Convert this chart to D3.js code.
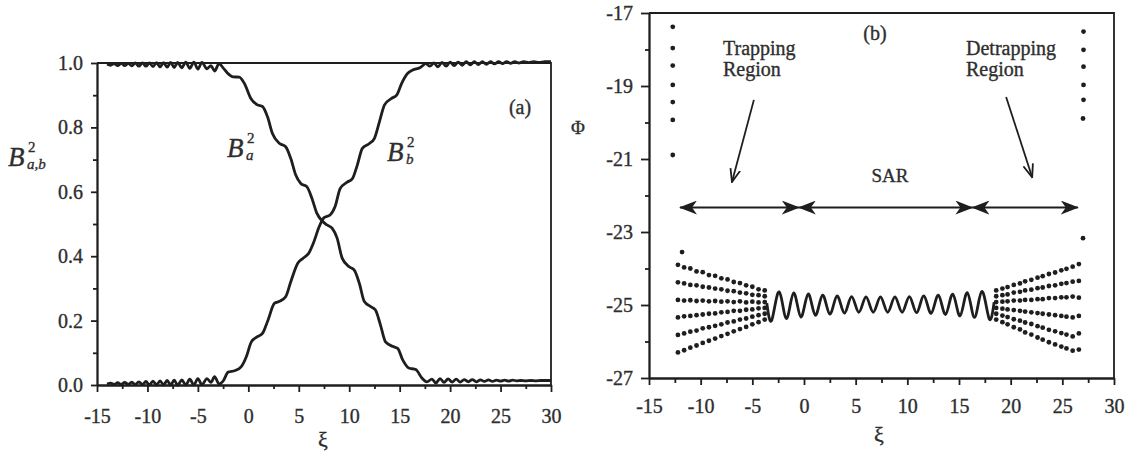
<!DOCTYPE html>
<html>
<head>
<meta charset="utf-8">
<script src="https://cdn.jsdelivr.net/npm/d3@7"></script>
<style>
  body { margin: 0; background: #fff; }
  svg text { font-family: "Liberation Serif", "DejaVu Serif", serif; fill: #2e2e2e; stroke: #2e2e2e; stroke-width: 0.35px; }
</style>
</head>
<body>
<svg id="chart" width="1131" height="459"></svg>
<script>
// ---- data ----
const xiTicks = [-15, -10, -5, 0, 5, 10, 15, 20, 25, 30];
const xiMinor = [-12.5, -7.5, -2.5, 2.5, 7.5, 12.5, 17.5, 22.5, 27.5];
const bTicks = [0, 0.2, 0.4, 0.6, 0.8, 1.0];
const bMinor = [0.1, 0.3, 0.5, 0.7, 0.9];
const phiTicks = [-27, -25, -23, -21, -19, -17];
const phiMinor = [-26, -24, -22, -20, -18];

// panel (a): B_a^2 and B_b^2 vs xi
const bSqA = [
  [-14.0,0.997],[-13.65,0.993],[-13.3,0.998],[-12.95,0.992],[-12.6,0.999],[-12.25,0.992],[-11.9,0.999],
  [-11.55,0.991],[-11.2,1.0],[-10.85,0.99],[-10.5,1.0],[-10.15,0.99],[-9.8,1.0],[-9.45,0.989],[-9.1,1.001],
  [-8.75,0.988],[-8.4,1.001],[-8.05,0.987],[-7.7,1.002],[-7.35,0.986],[-7.0,1.002],[-6.6,0.985],[-6.2,1.003],
  [-5.8,0.983],[-5.4,1.003],[-5.0,0.981],[-4.6,1.002],[-4.1,0.982],[-3.7,0.992],[-3.35,0.975],[-2.9,0.998],
  [-2.5,0.985],[-2.1,0.97],[-1.5,0.957],[-0.9,0.956],[-0.4,0.937],[0.25,0.89],[0.9,0.87],[1.4,0.865],
  [1.9,0.833],[2.4,0.78],[3.1,0.75],[3.7,0.74],[4.2,0.704],[4.7,0.652],[5.2,0.626],[5.8,0.616],[6.3,0.58],
  [6.8,0.533],[7.3,0.51],[7.8,0.497],[8.3,0.487],[8.8,0.456],[9.3,0.394],[10.0,0.367],[10.5,0.357],
  [11.0,0.316],[11.5,0.259],[12.1,0.244],[12.6,0.233],[13.1,0.186],[13.6,0.134],[14.3,0.12],[14.8,0.114],
  [15.3,0.078],[15.9,0.053],[16.6,0.048],[17.2,0.022],[17.7,0.01],
  [18.2,0.018],[18.6,0.006],[19.0,0.02],[19.4,0.008],[19.8,0.019],[20.2,0.009],[20.6,0.018],[21.0,0.009],
  [21.4,0.017],[21.8,0.01],[22.2,0.017],[22.6,0.01],[23.0,0.016],[23.4,0.011],[23.8,0.016],[24.2,0.011],
  [24.6,0.015],[25.0,0.012],[25.4,0.015],[25.8,0.012],[26.2,0.015],[26.6,0.013],[27.0,0.014],[27.5,0.013],
  [28.0,0.014],[28.5,0.013],[29.0,0.014],[29.5,0.014],[30.0,0.014]
];
const bSqB = [
  [-14.0,0.003],[-13.65,0.006],[-13.3,0.002],[-12.95,0.007],[-12.6,0.002],[-12.25,0.008],[-11.9,0.002],
  [-11.55,0.009],[-11.2,0.001],[-10.85,0.01],[-10.5,0.001],[-10.15,0.011],[-9.8,0.0],[-9.45,0.012],[-9.1,0.0],
  [-8.75,0.013],[-8.4,0.0],[-8.05,0.014],[-7.7,0.0],[-7.35,0.015],[-7.0,-0.001],[-6.6,0.016],[-6.2,0.0],
  [-5.8,0.018],[-5.4,0.0],[-5.0,0.02],[-4.6,0.001],[-4.1,0.02],[-3.7,0.008],[-3.35,0.026],[-2.9,0.003],
  [-2.5,0.012],[-2.0,0.04],[-1.3,0.045],[-0.7,0.057],[-0.2,0.088],[0.3,0.134],[0.9,0.15],[1.4,0.16],
  [1.9,0.197],[2.6,0.254],[3.1,0.26],[3.7,0.274],[4.2,0.32],[4.9,0.378],[5.4,0.393],[6.0,0.41],[6.5,0.445],
  [7.0,0.49],[7.5,0.52],[8.1,0.528],[8.6,0.554],[9.1,0.61],[9.8,0.63],[10.3,0.64],[10.8,0.683],[11.3,0.735],
  [12.0,0.75],[12.5,0.766],[13.0,0.818],[13.5,0.87],[14.2,0.89],[14.7,0.9],[15.2,0.937],[15.8,0.968],
  [16.3,0.978],[17.0,0.985],[17.6,0.998],
  [18.0,0.99],[18.4,1.0],[18.8,0.988],[19.2,1.002],[19.6,0.99],[20.0,1.003],[20.4,0.992],[20.8,1.003],
  [21.2,0.993],[21.6,1.004],[22.0,0.994],[22.4,1.004],[22.8,0.995],[23.2,1.004],[23.6,0.996],[24.0,1.004],
  [24.4,0.997],[24.8,1.004],[25.2,0.998],[25.6,1.004],[26.0,0.999],[26.4,1.004],[26.8,1.0],[27.3,1.004],
  [27.8,1.001],[28.3,1.004],[28.8,1.002],[29.4,1.004],[30.0,1.004]
];

// panel (b): phase Phi vs xi
const phiColLeft = [[-12.7,-17.38],[-12.7,-17.96],[-12.7,-18.44],[-12.7,-18.97],[-12.7,-19.44],[-12.7,-19.93],[-12.7,-20.89],[-11.8,-23.55]];
const phiColRight = [[27.05,-17.51],[27.05,-18.01],[27.05,-18.47],[27.05,-18.97],[27.05,-19.38],[27.0,-19.89],[27.0,-23.17]];

const fanLeftXi = [-12.2, -11.6, -11.0, -10.4, -9.8, -9.2, -8.6, -8.0, -7.4, -6.8, -6.2, -5.6, -5.0, -4.4, -3.8];
const fanLeftRows = [
  [-23.90, -23.97, -24.00, -24.08, -24.10, -24.18, -24.20, -24.27, -24.30, -24.37, -24.40, -24.46, -24.50, -24.57, -24.60],
  [-24.38, -24.41, -24.45, -24.46, -24.50, -24.52, -24.55, -24.57, -24.61, -24.62, -24.66, -24.68, -24.72, -24.73, -24.76],
  [-24.86, -24.88, -24.87, -24.89, -24.88, -24.90, -24.89, -24.91, -24.90, -24.92, -24.90, -24.93, -24.91, -24.93, -24.92],
  [-25.34, -25.31, -25.30, -25.28, -25.26, -25.24, -25.23, -25.20, -25.19, -25.16, -25.16, -25.13, -25.12, -25.09, -25.08],
  [-25.82, -25.78, -25.73, -25.70, -25.64, -25.61, -25.57, -25.53, -25.48, -25.45, -25.40, -25.37, -25.32, -25.28, -25.24],
  [-26.30, -26.24, -26.17, -26.11, -26.04, -25.98, -25.92, -25.85, -25.79, -25.72, -25.66, -25.60, -25.53, -25.47, -25.40]
];
const fanRightXi = [18.6, 19.2, 19.7, 20.3, 20.9, 21.4, 22.0, 22.6, 23.1, 23.7, 24.3, 24.9, 25.4, 26.0, 26.6];
const fanRightRows = [
  [-24.60, -24.55, -24.51, -24.45, -24.41, -24.35, -24.31, -24.25, -24.21, -24.15, -24.11, -24.05, -24.01, -23.95, -23.88],
  [-24.76, -24.73, -24.71, -24.66, -24.64, -24.60, -24.58, -24.54, -24.52, -24.48, -24.46, -24.42, -24.40, -24.36, -24.34],
  [-24.92, -24.91, -24.90, -24.88, -24.88, -24.86, -24.86, -24.84, -24.84, -24.81, -24.81, -24.79, -24.79, -24.77, -24.80],
  [-25.08, -25.10, -25.12, -25.14, -25.16, -25.18, -25.20, -25.22, -25.24, -25.26, -25.28, -25.30, -25.32, -25.34, -25.30],
  [-25.24, -25.29, -25.33, -25.39, -25.43, -25.48, -25.52, -25.58, -25.62, -25.68, -25.72, -25.77, -25.81, -25.86, -25.78],
  [-25.40, -25.47, -25.53, -25.61, -25.67, -25.75, -25.81, -25.89, -25.95, -26.02, -26.08, -26.14, -26.19, -26.25, -26.22]
];
// oscillation inside the SAR (peaks and troughs)
const sarWave = [
  [-3.6,-24.95],[-3.1,-25.4],[-2.4,-24.64],[-1.7,-25.37],[-1.0,-24.67],[-0.3,-25.33],[0.4,-24.7],[1.1,-25.28],
  [1.8,-24.73],[2.5,-25.25],[3.2,-24.75],[3.9,-25.22],[4.6,-24.77],[5.3,-25.2],[6.0,-24.78],[6.7,-25.2],
  [7.4,-24.78],[8.1,-25.2],[8.8,-24.78],[9.5,-25.2],[10.2,-24.77],[10.9,-25.21],[11.6,-24.75],[12.3,-25.23],
  [13.0,-24.73],[13.7,-25.26],[14.4,-24.7],[15.1,-25.3],[15.8,-24.66],[16.5,-25.34],[17.2,-24.63],[17.9,-25.36],
  [18.4,-24.92]
];
const sarBounds = [-12.0, -0.5, 16.3, 26.5];
const sarPhi = -22.33;

// ---- drawing ----
const svg = d3.select('#chart');
const ink = '#1e1e1e';

function styleAxis(g) {
  g.attr('font-family', '"Liberation Serif", serif').attr('font-size', 20);
  g.selectAll('path, line').attr('stroke', ink).attr('stroke-width', 1.8);
}

function bLabel(x, y, sub) {
  const g = svg.append('g');
  g.append('text').attr('x', x).attr('y', y).attr('font-size', 27).attr('font-style', 'italic').text('B');
  g.append('text').attr('x', x + 20).attr('y', y - 14).attr('font-size', 15).text('2');
  g.append('text').attr('x', x + 19).attr('y', y + 3).attr('font-size', 15).attr('font-style', 'italic').text(sub);
}

// panel (a)
const xA = d3.scaleLinear().domain([-15, 30]).range([97, 551]);
const yA = d3.scaleLinear().domain([0, 1]).range([385, 63]);

svg.append('g').attr('transform', 'translate(0,385)')
  .call(d3.axisBottom(xA).tickValues(xiTicks).tickSize(7).tickPadding(17).tickSizeOuter(0).tickFormat(d => String(d)))
  .call(styleAxis);
svg.append('g').attr('transform', 'translate(0,385)')
  .call(d3.axisBottom(xA).tickValues(xiMinor).tickSize(4).tickSizeOuter(0).tickFormat(''))
  .call(styleAxis);
svg.append('g').attr('transform', 'translate(97,0)')
  .call(d3.axisLeft(yA).tickValues(bTicks).tickSize(6).tickPadding(8).tickSizeOuter(0).tickFormat(d => d.toFixed(1)))
  .call(styleAxis);
svg.append('g').attr('transform', 'translate(97,0)')
  .call(d3.axisLeft(yA).tickValues(bMinor).tickSize(4).tickSizeOuter(0).tickFormat(''))
  .call(styleAxis);

svg.append('path')
  .attr('d', `M${xA(-15)},${yA(1)}H${xA(30)}V${yA(0)}`)
  .attr('fill', 'none').attr('stroke', ink).attr('stroke-width', 1.8);

const lineA = d3.line().x(d => xA(d[0])).y(d => yA(d[1])).curve(d3.curveMonotoneX);
[bSqA, bSqB].forEach(function(s) {
  svg.append('path').datum(s)
    .attr('d', lineA)
    .attr('fill', 'none')
    .attr('stroke', ink)
    .attr('stroke-width', 2.8)
    .attr('stroke-linejoin', 'round');
});

svg.append('text').attr('x', 520).attr('y', 114).attr('text-anchor', 'middle').attr('font-size', 20).text('(a)');
svg.append('text').attr('x', 323).attr('y', 447).attr('text-anchor', 'middle').attr('font-size', 22).text('ξ');
bLabel(227, 157, 'a');
bLabel(387, 161, 'b');
bLabel(8, 166, 'a,b');

// panel (b)
const xB = d3.scaleLinear().domain([-15, 30]).range([649, 1114]);
const yB = d3.scaleLinear().domain([-27, -17]).range([378, 13]);

svg.append('g').attr('transform', 'translate(0,378)')
  .call(d3.axisBottom(xB).tickValues(xiTicks).tickSize(7).tickPadding(14).tickSizeOuter(0).tickFormat(d => String(d)))
  .call(styleAxis);
svg.append('g').attr('transform', 'translate(0,378)')
  .call(d3.axisBottom(xB).tickValues(xiMinor).tickSize(5).tickSizeOuter(0).tickFormat(''))
  .call(styleAxis);
svg.append('g').attr('transform', 'translate(649,0)')
  .call(d3.axisLeft(yB).tickValues(phiTicks).tickSize(8).tickPadding(8).tickSizeOuter(0).tickFormat(d => String(d)))
  .call(styleAxis);
svg.append('g').attr('transform', 'translate(649,0)')
  .call(d3.axisLeft(yB).tickValues(phiMinor).tickSize(4).tickSizeOuter(0).tickFormat(''))
  .call(styleAxis);

svg.append('path')
  .attr('d', `M${xB(-15)},${yB(-17)}H${xB(30)}V${yB(-27)}`)
  .attr('fill', 'none').attr('stroke', ink).attr('stroke-width', 1.8);

// scattered phase points
const fanDots = [];
fanLeftRows.forEach(row => row.forEach((v, i) => fanDots.push([fanLeftXi[i], v])));
fanRightRows.forEach(row => row.forEach((v, i) => fanDots.push([fanRightXi[i], v])));
const allDots = phiColLeft.concat(phiColRight, fanDots);

svg.append('g').selectAll('circle')
  .data(allDots)
  .enter()
  .append('circle')
  .attr('cx', d => xB(d[0]))
  .attr('cy', d => yB(d[1]))
  .attr('r', 2.4)
  .attr('fill', ink);

svg.append('path').datum(sarWave)
  .attr('d', d3.line().x(d => xB(d[0])).y(d => yB(d[1])).curve(d3.curveNatural))
  .attr('fill', 'none')
  .attr('stroke', ink)
  .attr('stroke-width', 2.8);

// arrow markers
const defs = svg.append('defs');
defs.append('marker')
  .attr('id', 'headFill')
  .attr('viewBox', '0 -7 18 14')
  .attr('refX', 17).attr('refY', 0)
  .attr('markerUnits', 'userSpaceOnUse')
  .attr('markerWidth', 18).attr('markerHeight', 14)
  .attr('orient', 'auto-start-reverse')
  .append('path')
  .attr('d', 'M0,-7L18,0L0,7L5,0Z')
  .attr('fill', ink);
defs.append('marker')
  .attr('id', 'headOpen')
  .attr('viewBox', '0 -6 14 12')
  .attr('refX', 13).attr('refY', 0)
  .attr('markerUnits', 'userSpaceOnUse')
  .attr('markerWidth', 14).attr('markerHeight', 12)
  .attr('orient', 'auto')
  .append('path')
  .attr('d', 'M0,-5L13,0L0,5')
  .attr('fill', 'none')
  .attr('stroke', ink)
  .attr('stroke-width', 1.8);

d3.pairs(sarBounds).forEach(function(p) {
  svg.append('line')
    .attr('x1', xB(p[0])).attr('x2', xB(p[1]))
    .attr('y1', yB(sarPhi)).attr('y2', yB(sarPhi))
    .attr('stroke', ink)
    .attr('stroke-width', 2)
    .attr('marker-start', 'url(#headFill)')
    .attr('marker-end', 'url(#headFill)');
});

[[[-4.85, -19.38], [-6.97, -21.63]], [[19.56, -19.3], [22.08, -21.5]]].forEach(function(a) {
  svg.append('line')
    .attr('x1', xB(a[0][0])).attr('y1', yB(a[0][1]))
    .attr('x2', xB(a[1][0])).attr('y2', yB(a[1][1]))
    .attr('stroke', ink)
    .attr('stroke-width', 1.8)
    .attr('marker-end', 'url(#headOpen)');
});

svg.append('text').attr('x', 875).attr('y', 40).attr('text-anchor', 'middle').attr('font-size', 20).text('(b)');
svg.append('text').attr('x', 723).attr('y', 55).attr('font-size', 20).text('Trapping');
svg.append('text').attr('x', 723).attr('y', 76).attr('font-size', 20).text('Region');
svg.append('text').attr('x', 966).attr('y', 55).attr('font-size', 20).text('Detrapping');
svg.append('text').attr('x', 966).attr('y', 76).attr('font-size', 20).text('Region');
svg.append('text').attr('x', 890).attr('y', 182).attr('text-anchor', 'middle').attr('font-size', 19).text('SAR');
svg.append('text').attr('x', 578).attr('y', 134).attr('text-anchor', 'middle').attr('font-size', 19).text('Φ');
svg.append('text').attr('x', 879).attr('y', 442).attr('text-anchor', 'middle').attr('font-size', 22).text('ξ');
</script>
</body>
</html>
